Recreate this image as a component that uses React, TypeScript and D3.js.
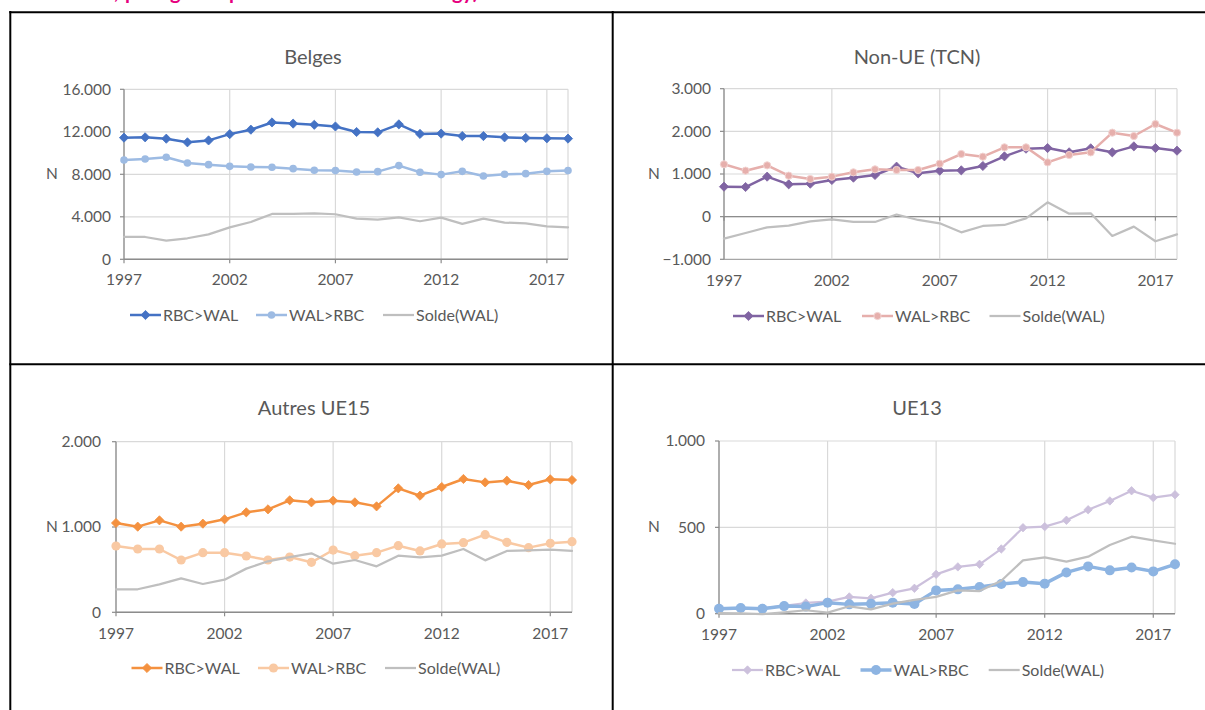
import React from "react";
import * as d3 from "d3";

const YEARS = [1997, 1998, 1999, 2000, 2001, 2002, 2003, 2004, 2005, 2006, 2007, 2008, 2009, 2010, 2011, 2012, 2013, 2014, 2015, 2016, 2017, 2018];
const X_TICKS = [1997, 2002, 2007, 2012, 2017];
const SERIES_NAMES = ["RBC>WAL", "WAL>RBC", "Solde(WAL)"];

const belgesRbcWal = [11450, 11480, 11350, 11010, 11190, 11780, 12200, 12880, 12770, 12660, 12500, 11980, 11950, 12700, 11800, 11830, 11600, 11600, 11480, 11420, 11390, 11360];
const belgesWalRbc = [9350, 9440, 9600, 9070, 8910, 8750, 8690, 8660, 8530, 8380, 8350, 8220, 8250, 8820, 8190, 7970, 8280, 7840, 8000, 8060, 8280, 8350];
const belgesSolde = [2100, 2100, 1760, 1980, 2350, 3010, 3510, 4270, 4270, 4330, 4240, 3830, 3730, 3950, 3580, 3920, 3330, 3830, 3450, 3390, 3100, 3010];
const belgesTicks = [0, 4000, 8000, 12000, 16000];

const nonUeRbcWal = [703, 695, 938, 758, 773, 859, 914, 977, 1172, 1016, 1078, 1086, 1188, 1414, 1594, 1609, 1508, 1602, 1508, 1648, 1609, 1547];
const nonUeWalRbc = [1227, 1078, 1203, 961, 883, 938, 1039, 1109, 1094, 1094, 1242, 1469, 1406, 1625, 1625, 1273, 1445, 1508, 1969, 1891, 2172, 1969];
const nonUeSolde = [-516, -383, -250, -211, -109, -63, -125, -125, 50, -78, -156, -367, -219, -195, -39, 336, 70, 78, -453, -234, -578, -414];
const nonUeTicks = [-1000, 0, 1000, 2000, 3000];

const ue15RbcWal = [1047, 1004, 1078, 1004, 1039, 1090, 1172, 1207, 1313, 1289, 1309, 1289, 1242, 1453, 1367, 1469, 1563, 1523, 1543, 1492, 1559, 1551];
const ue15WalRbc = [777, 742, 742, 613, 699, 699, 660, 613, 648, 586, 730, 664, 699, 781, 719, 801, 816, 910, 820, 758, 809, 828];
const ue15Solde = [270, 270, 328, 398, 332, 383, 512, 598, 648, 691, 570, 613, 539, 664, 645, 664, 742, 609, 719, 727, 734, 719];
const ue15Ticks = [0, 1000, 2000];

const ue13RbcWal = [29, 31, 31, 46, 62, 70, 97, 89, 122, 147, 228, 271, 286, 375, 498, 504, 541, 602, 653, 712, 672, 689];
const ue13WalRbc = [29, 33, 29, 44, 41, 64, 54, 58, 64, 56, 135, 141, 155, 172, 183, 174, 239, 274, 251, 268, 245, 286];
const ue13Solde = [4, 2, -2, 8, 20, 6, 43, 25, 58, 80, 97, 135, 131, 191, 309, 326, 301, 330, 398, 446, 425, 405];
const ue13Ticks = [0, 500, 1000];

const FONT = "Lato, Carlito, Calibri, 'Open Sans', sans-serif";
const TEXT = "#595959";
const GRID = "#D9D9D9";
const AXIS = "#8C8C8C";
const SOLDE = "#BFBFBF";
const TICK_FS = 15.5;
const LEG_FS = 16;
const TITLE_FS = 20;

const fmt = d3.formatLocale({ decimal: ",", thousands: ".", grouping: [3], currency: ["", "€"] }).format(",");

type Style = { color: string; width: number; marker: "diamond" | "circle" | "none"; r: number; mstroke?: string };

const panels = [
  {
    title: "Belges", x0: 124, x1: 568, yTop: 89.3, yBot: 259.3, domain: [0, 16000], ticks: belgesTicks,
    titleX: 313, titleY: 57, nX: 52, nY: 174, labX: 111, xLabY: 280, legY: 315, legX: [130, 256, 383],
    data: [belgesRbcWal, belgesWalRbc, belgesSolde],
    styles: [
      { color: "#4472C4", width: 2.5, marker: "diamond", r: 4.6 },
      { color: "#9DBBE3", width: 2.5, marker: "circle", r: 3.8 },
      { color: SOLDE, width: 2.25, marker: "none", r: 0 },
    ] as Style[],
  },
  {
    title: "Non-UE (TCN)", x0: 724, x1: 1177, yTop: 88.7, yBot: 259.3, domain: [-1000, 3000], ticks: nonUeTicks,
    titleX: 917, titleY: 57, nX: 654, nY: 174, labX: 711, xLabY: 281, legY: 316, legX: [733, 862, 989.5],
    data: [nonUeRbcWal, nonUeWalRbc, nonUeSolde],
    styles: [
      { color: "#8064A2", width: 2.5, marker: "diamond", r: 4.6 },
      { color: "#E6AFAC", width: 2.5, marker: "circle", r: 3.6, mstroke: "#F2D3D1" },
      { color: SOLDE, width: 2.25, marker: "none", r: 0 },
    ] as Style[],
  },
  {
    title: "Autres UE15", x0: 116, x1: 572, yTop: 441.7, yBot: 612.3, domain: [0, 2000], ticks: ue15Ticks,
    titleX: 314, titleY: 408, nX: 52, nY: 527, labX: 101, xLabY: 634, legY: 668, legX: [131.5, 258, 385],
    data: [ue15RbcWal, ue15WalRbc, ue15Solde],
    styles: [
      { color: "#F4913F", width: 2.5, marker: "diamond", r: 4.6 },
      { color: "#F9C9A3", width: 2.5, marker: "circle", r: 4.6 },
      { color: SOLDE, width: 2.25, marker: "none", r: 0 },
    ] as Style[],
  },
  {
    title: "UE13", x0: 719, x1: 1175, yTop: 441, yBot: 613.7, domain: [0, 1000], ticks: ue13Ticks,
    titleX: 917, titleY: 408, nX: 654, nY: 527, labX: 705, xLabY: 635, legY: 670, legX: [732, 860.5, 988.7],
    data: [ue13RbcWal, ue13WalRbc, ue13Solde],
    styles: [
      { color: "#CCC0DC", width: 2.25, marker: "diamond", r: 4.2 },
      { color: "#8DB4E2", width: 3.5, marker: "circle", r: 5 },
      { color: SOLDE, width: 2.25, marker: "none", r: 0 },
    ] as Style[],
  },
];

function Marker({ s, x, y }: { s: Style; x: number; y: number }) {
  if (s.marker === "diamond") {
    const r = s.r;
    return <path d={`M${x},${y - r}L${x + r},${y}L${x},${y + r}L${x - r},${y}Z`} fill={s.color} stroke={s.color} strokeWidth={0.8} />;
  }
  if (s.marker === "circle") {
    return <circle cx={x} cy={y} r={s.r} fill={s.color} stroke={s.mstroke || s.color} strokeWidth={s.mstroke ? 1 : 0} />;
  }
  return null;
}

function Panel({ p }: { p: (typeof panels)[number] }) {
  const x = d3.scaleLinear().domain([YEARS[0], YEARS[YEARS.length - 1]]).range([p.x0, p.x1]);
  const y = d3.scaleLinear().domain(p.domain).range([p.yBot, p.yTop]);
  const zeroY = y(Math.max(0, p.domain[0]));
  return (
    <g>
      {p.ticks.map((t) => (
        <line key={"h" + t} x1={p.x0} x2={p.x1} y1={y(t)} y2={y(t)} stroke={t === p.domain[0] && p.domain[0] < 0 ? "#A6A6A6" : GRID} strokeWidth={1.2} />
      ))}
      {X_TICKS.slice(1).map((t) => (
        <line key={"v" + t} x1={x(t)} x2={x(t)} y1={p.yTop} y2={p.yBot} stroke={GRID} strokeWidth={1.2} />
      ))}
      <line x1={p.x1} x2={p.x1} y1={p.yTop} y2={p.yBot} stroke={GRID} strokeWidth={1.2} />
      <line x1={p.x0} x2={p.x0} y1={p.yTop} y2={p.yBot} stroke={AXIS} strokeWidth={1.4} />
      {p.ticks.map((t) => (
        <line key={"yt" + t} x1={p.x0 - 4} x2={p.x0} y1={y(t)} y2={y(t)} stroke={AXIS} strokeWidth={1.2} />
      ))}
      <line x1={p.x0} x2={p.x1} y1={zeroY} y2={zeroY} stroke={AXIS} strokeWidth={1.4} />
      {X_TICKS.map((t) => (
        <line key={"xt" + t} x1={x(t)} x2={x(t)} y1={zeroY} y2={zeroY + 4} stroke={AXIS} strokeWidth={1.2} />
      ))}
      {p.ticks.map((t) => (
        <text key={"yl" + t} x={p.labX} y={y(t)} dy="0.35em" textAnchor="end" fontSize={TICK_FS} fill={TEXT} fontFamily={FONT}>
          {fmt(t)}
        </text>
      ))}
      {X_TICKS.map((t) => (
        <text key={"xl" + t} x={x(t)} y={p.xLabY} dy="0.35em" textAnchor="middle" fontSize={TICK_FS} fill={TEXT} fontFamily={FONT}>
          {t}
        </text>
      ))}
      <text x={p.nX} y={p.nY} dy="0.35em" textAnchor="middle" fontSize={TICK_FS} fill={TEXT} fontFamily={FONT}>N</text>
      <text x={p.titleX} y={p.titleY} dy="0.35em" textAnchor="middle" fontSize={TITLE_FS} fill={TEXT} fontFamily={FONT}>{p.title}</text>
      {p.data.map((vals, si) => {
        const s = p.styles[si];
        const line = d3.line<number>().x((_, i) => x(YEARS[i])).y((v) => y(v));
        return (
          <g key={"s" + si}>
            <path d={line(vals) || ""} fill="none" stroke={s.color} strokeWidth={s.width} strokeLinejoin="round" strokeLinecap="round" />
            {vals.map((v, i) => (
              <Marker key={i} s={s} x={x(YEARS[i])} y={y(v)} />
            ))}
          </g>
        );
      })}
      {SERIES_NAMES.map((name, si) => {
        const s = p.styles[si];
        const lx = p.legX[si];
        return (
          <g key={"lg" + si}>
            <line x1={lx} x2={lx + 31} y1={p.legY} y2={p.legY} stroke={s.color} strokeWidth={s.width} />
            <Marker s={s} x={lx + 15.5} y={p.legY} />
            <text x={lx + 33} y={p.legY} dy="0.35em" fontSize={LEG_FS} fill={TEXT} fontFamily={FONT}>{name}</text>
          </g>
        );
      })}
    </g>
  );
}

export default function App() {
  return (
    <svg width={1205} height={710} style={{ position: "absolute", left: 0, top: 0, background: "#fff" }}>
      <rect x={0} y={0} width={1205} height={710} fill="#fff" />
      <text y={-1} fontSize={20} fontWeight="bold" fill="#E6007E" fontFamily={FONT}>
        <tspan x={114}>,</tspan>
        <tspan x={125}>p</tspan>
        <tspan x={170}>g</tspan>
        <tspan x={229}>p</tspan>
        <tspan x={452}>gy)</tspan>
      </text>
      <line x1={10.3} x2={10.3} y1={11} y2={710} stroke="#000" strokeWidth={2} />
      <line x1={9.3} x2={1205} y1={12.3} y2={12.3} stroke="#000" strokeWidth={2} />
      <line x1={612.7} x2={612.7} y1={11} y2={710} stroke="#000" strokeWidth={2} />
      <line x1={9.3} x2={1205} y1={364.3} y2={364.3} stroke="#000" strokeWidth={2} />
      {panels.map((p) => (
        <Panel key={p.title} p={p} />
      ))}
    </svg>
  );
}
